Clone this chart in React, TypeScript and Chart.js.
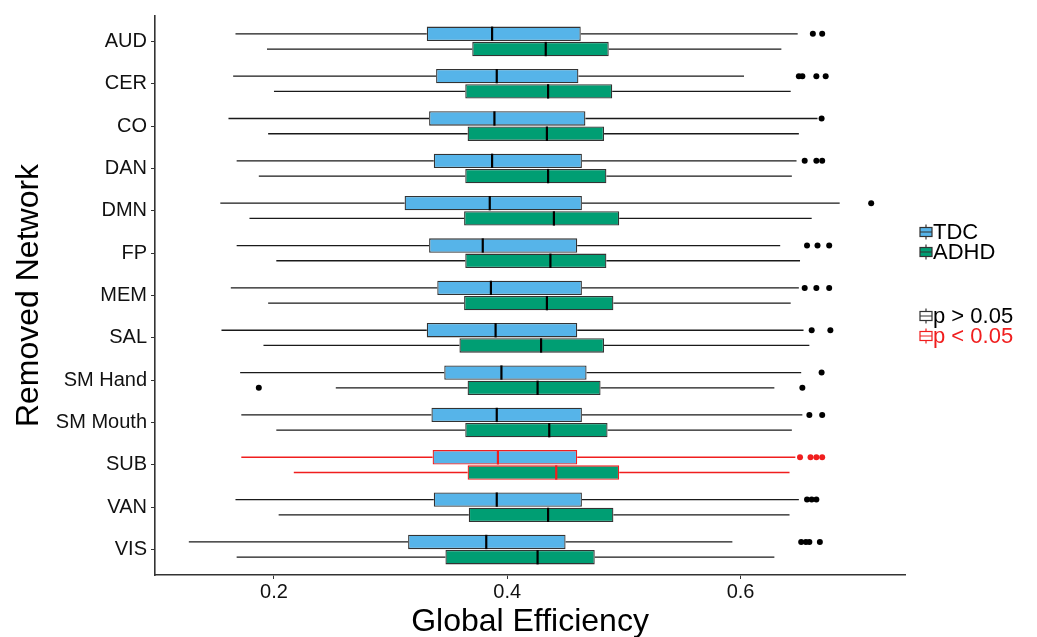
import React, { useEffect, useRef } from "react";
import { Chart, registerables } from "chart.js";

Chart.register(...registerables);

const categories = ["AUD", "CER", "CO", "DAN", "DMN", "FP", "MEM", "SAL", "SM Hand", "SM Mouth", "SUB", "VAN", "VIS"];

const tdcLow = [0.167, 0.165, 0.161, 0.168, 0.154, 0.168, 0.163, 0.155, 0.171, 0.172, 0.172, 0.167, 0.127];
const tdcQ1 = [0.331, 0.339, 0.333, 0.337, 0.312, 0.333, 0.340, 0.331, 0.346, 0.335, 0.336, 0.337, 0.315];
const tdcMedian = [0.387, 0.391, 0.389, 0.387, 0.385, 0.379, 0.386, 0.390, 0.395, 0.391, 0.392, 0.391, 0.382];
const tdcQ3 = [0.463, 0.461, 0.467, 0.464, 0.464, 0.460, 0.464, 0.460, 0.468, 0.464, 0.460, 0.464, 0.450];
const tdcHigh = [0.649, 0.603, 0.666, 0.648, 0.685, 0.634, 0.650, 0.654, 0.652, 0.653, 0.647, 0.650, 0.593];
const tdcOutliers = [
  [0.662, 0.670],
  [0.650, 0.653, 0.665, 0.673],
  [0.6695],
  [0.655, 0.665, 0.670],
  [0.712],
  [0.657, 0.666, 0.676],
  [0.655, 0.665, 0.676],
  [0.661, 0.677],
  [0.6695],
  [0.659, 0.670],
  [0.651, 0.660, 0.665, 0.670],
  [0.657, 0.661, 0.665],
  [0.652, 0.656, 0.659, 0.668],
];

const adhdLow = [0.194, 0.200, 0.195, 0.187, 0.179, 0.202, 0.195, 0.191, 0.253, 0.202, 0.217, 0.204, 0.168];
const adhdQ1 = [0.370, 0.364, 0.366, 0.364, 0.363, 0.364, 0.363, 0.359, 0.366, 0.364, 0.366, 0.367, 0.347];
const adhdMedian = [0.433, 0.435, 0.434, 0.435, 0.440, 0.437, 0.434, 0.429, 0.426, 0.436, 0.442, 0.435, 0.426];
const adhdQ3 = [0.487, 0.490, 0.483, 0.485, 0.496, 0.485, 0.491, 0.483, 0.480, 0.486, 0.496, 0.491, 0.475];
const adhdHigh = [0.635, 0.643, 0.650, 0.644, 0.661, 0.651, 0.643, 0.659, 0.629, 0.644, 0.642, 0.642, 0.629];
const adhdOutliers = [[], [], [], [], [], [], [], [], [0.187, 0.653], [], [], [], []];

const significant = [false, false, false, false, false, false, false, false, false, false, true, false, false];

const xTicks = [0.2, 0.4, 0.6];

const FONT = "'Liberation Sans', Arial, Helvetica, sans-serif";
const TDC_COLOR = "#56B4E9";
const ADHD_COLOR = "#009E73";
const DARK = "#333333";
const RED = "#F01E1E";

const groups = [
  { low: tdcLow, med: tdcMedian, high: tdcHigh, out: tdcOutliers },
  { low: adhdLow, med: adhdMedian, high: adhdHigh, out: adhdOutliers },
];

const boxPlugin = {
  id: "boxParts",
  beforeDatasetsDraw(chart: any) {
    const ctx = chart.ctx;
    const xs = chart.scales.x;
    ctx.save();
    groups.forEach((g, di) => {
      const meta = chart.getDatasetMeta(di);
      const ds = chart.data.datasets[di].data;
      meta.data.forEach((bar: any, j: number) => {
        const [q1, q3] = ds[j];
        ctx.strokeStyle = significant[j] ? RED : "#1a1a1a";
        ctx.lineWidth = 1.3;
        ctx.beginPath();
        ctx.moveTo(xs.getPixelForValue(g.low[j]), bar.y);
        ctx.lineTo(xs.getPixelForValue(q1), bar.y);
        ctx.moveTo(xs.getPixelForValue(q3), bar.y);
        ctx.lineTo(xs.getPixelForValue(g.high[j]), bar.y);
        ctx.stroke();
      });
    });
    ctx.restore();
  },
  afterDatasetsDraw(chart: any) {
    const ctx = chart.ctx;
    const xs = chart.scales.x;
    ctx.save();
    groups.forEach((g, di) => {
      const meta = chart.getDatasetMeta(di);
      meta.data.forEach((bar: any, j: number) => {
        const col = significant[j] ? RED : "#000000";
        const h = bar.height;
        const mx = xs.getPixelForValue(g.med[j]);
        ctx.strokeStyle = col;
        ctx.lineWidth = 2.2;
        ctx.beginPath();
        ctx.moveTo(mx, bar.y - h / 2);
        ctx.lineTo(mx, bar.y + h / 2);
        ctx.stroke();
        ctx.fillStyle = col;
        g.out[j].forEach((v: number) => {
          ctx.beginPath();
          ctx.arc(xs.getPixelForValue(v), bar.y, 3, 0, Math.PI * 2);
          ctx.fill();
        });
      });
    });
    ctx.restore();
  },
  afterDraw(chart: any) {
    const ctx = chart.ctx;
    ctx.save();
    const items = [
      { label: "TDC", fill: TDC_COLOR, stroke: DARK, y: 232 },
      { label: "ADHD", fill: ADHD_COLOR, stroke: DARK, y: 252 },
      { label: "p > 0.05", fill: "#ffffff", stroke: DARK, y: 316 },
      { label: "p < 0.05", fill: "#ffffff", stroke: RED, y: 336 },
    ];
    items.forEach((it) => {
      const x0 = 920;
      const w = 12;
      const bh = 9;
      ctx.fillStyle = it.fill;
      ctx.fillRect(x0, it.y - bh / 2, w, bh);
      ctx.strokeStyle = it.stroke;
      ctx.lineWidth = 1.2;
      ctx.strokeRect(x0, it.y - bh / 2, w, bh);
      ctx.beginPath();
      ctx.moveTo(x0, it.y);
      ctx.lineTo(x0 + w, it.y);
      ctx.moveTo(x0 + w / 2, it.y - bh / 2 - 3);
      ctx.lineTo(x0 + w / 2, it.y - bh / 2);
      ctx.moveTo(x0 + w / 2, it.y + bh / 2);
      ctx.lineTo(x0 + w / 2, it.y + bh / 2 + 3);
      ctx.stroke();
      ctx.fillStyle = it.stroke === RED ? RED : "#000000";
      ctx.font = `22px ${FONT}`;
      ctx.textBaseline = "middle";
      ctx.textAlign = "left";
      ctx.fillText(it.label, x0 + w + 1, it.y + 1);
    });
    ctx.restore();
  },
};

export default function App() {
  const canvasRef = useRef<HTMLCanvasElement | null>(null);

  useEffect(() => {
    if (!canvasRef.current) return;
    const borderCols = significant.map((s) => (s ? RED : DARK));
    const chart = new Chart(canvasRef.current, {
      type: "bar",
      data: {
        labels: categories,
        datasets: [
          {
            label: "TDC",
            data: tdcQ1.map((q, i) => [q, tdcQ3[i]]),
            backgroundColor: TDC_COLOR,
            borderColor: borderCols,
            borderWidth: 1.3,
            borderSkipped: false,
          },
          {
            label: "ADHD",
            data: adhdQ1.map((q, i) => [q, adhdQ3[i]]),
            backgroundColor: ADHD_COLOR,
            borderColor: borderCols,
            borderWidth: 1.3,
            borderSkipped: false,
          },
        ] as any,
      },
      options: {
        indexAxis: "y",
        animation: false,
        responsive: false,
        devicePixelRatio: 1,
        datasets: { bar: { categoryPercentage: 0.72, barPercentage: 0.94 } } as any,
        layout: { padding: { top: 11, right: 132, left: 0, bottom: 0 } },
        plugins: { legend: { display: false }, tooltip: { enabled: false } },
        scales: {
          x: {
            type: "linear",
            min: 0.098,
            max: 0.741,
            afterBuildTicks: (s: any) => {
              s.ticks = xTicks.map((v) => ({ value: v }));
            },
            afterFit: (s: any) => {
              s.height = 62;
            },
            grid: { display: true, drawOnChartArea: false, drawTicks: true, tickLength: 4, color: DARK },
            border: { display: true, color: DARK, width: 1.6 },
            ticks: {
              font: { family: FONT, size: 20 },
              color: "#111111",
              padding: 1,
              callback: (v: any) => Number(v).toFixed(1),
            },
            title: {
              display: true,
              text: "Global Efficiency",
              font: { family: FONT, size: 32 },
              color: "#000000",
              padding: { top: 0, bottom: -4 },
            },
          },
          y: {
            type: "category",
            offset: true,
            afterBuildTicks: (s: any) => {
              s._startValue = s.min - 0.6;
              s._valueRange = s.max - s.min + 1.2;
            },
            afterFit: (s: any) => {
              s.width = 155;
            },
            grid: { display: true, drawOnChartArea: false, offset: false, drawTicks: true, tickLength: 4, color: DARK },
            border: { display: true, color: DARK, width: 1.6 },
            ticks: { font: { family: FONT, size: 20 }, color: "#111111", padding: 4 },
            title: {
              display: true,
              text: "Removed Network",
              font: { family: FONT, size: 32 },
              color: "#000000",
              padding: { top: 10, bottom: 0 },
            },
          },
        } as any,
      },
      plugins: [boxPlugin],
    });
    return () => chart.destroy();
  }, []);

  return (
    <div style={{ position: "fixed", left: 0, top: 0, width: 1037, height: 637, background: "#ffffff" }}>
      <canvas ref={canvasRef} width={1037} height={637} style={{ display: "block", width: 1037, height: 637 }} />
    </div>
  );
}
